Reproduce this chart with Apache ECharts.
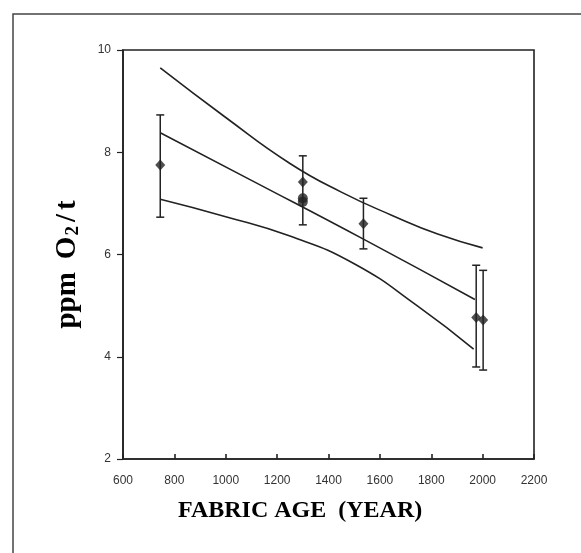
<!DOCTYPE html>
<html>
<head>
<meta charset="utf-8">
<script src="https://cdn.jsdelivr.net/npm/echarts@6/dist/echarts.min.js"></script>
<style>
  html, body { margin: 0; padding: 0; background: #fff; }
  #chart { width: 581px; height: 553px; }
</style>
</head>
<body>
<div id="chart"></div>
<script>
const xTicks = [600, 800, 1000, 1200, 1400, 1600, 1800, 2000, 2200];
const yTicks = [2, 4, 6, 8, 10];

const barX = [745, 1300, 1536, 1975, 2002];
const barLow = [6.73, 6.58, 6.11, 3.80, 3.74];
const barHigh = [8.73, 7.93, 7.10, 5.79, 5.69];

const diamondX = [745, 1300, 1536, 1975, 2002];
const diamondY = [7.75, 7.42, 6.60, 4.77, 4.72];
const circleX = [1300, 1300];
const circleY = [7.10, 7.03];

// fitted curve and its two bounds
const upperX = [745, 1000, 1250, 1450, 1650, 1825, 2000];
const upperY = [9.65, 8.68, 7.78, 7.22, 6.76, 6.40, 6.13];
const midX = [745, 1100, 1536, 1970];
const midY = [8.38, 7.45, 6.30, 5.12];
const lowerX = [745, 1000, 1250, 1500, 1750, 1965];
const lowerY = [7.08, 6.74, 6.36, 5.82, 4.98, 4.15];

const ink = '#222';
const zip = (xs, ys) => xs.map((x, i) => [x, ys[i]]);

const chart = echarts.init(document.getElementById('chart'));

const curve = (xs, ys) => ({
  type: 'line',
  data: zip(xs, ys),
  smooth: 0.5,
  showSymbol: false,
  lineStyle: { color: ink, width: 1.6 },
  silent: true,
  z: 2
});

const serifBold = { fontFamily: 'Liberation Serif', fontWeight: 'bold', color: '#000' };

chart.setOption({
  backgroundColor: '#fff',
  animation: false,
  grid: {
    left: 123, right: 47, top: 50, bottom: 94,
    show: true, borderColor: ink, borderWidth: 1.6
  },
  xAxis: {
    type: 'value',
    min: xTicks[0], max: xTicks[xTicks.length - 1], interval: 200,
    splitLine: { show: false },
    axisLine: { lineStyle: { color: ink, width: 1.6 } },
    axisTick: { inside: true, length: 5, lineStyle: { color: ink, width: 1.6 } },
    axisLabel: { color: '#333', fontFamily: 'Arial', fontSize: 12, margin: 16,
                 formatter: v => String(v) }
  },
  yAxis: {
    type: 'value',
    min: yTicks[0], max: yTicks[yTicks.length - 1], interval: 2,
    splitLine: { show: false },
    axisLine: { lineStyle: { color: ink, width: 1.6 } },
    axisTick: { length: 6, lineStyle: { color: ink, width: 1.2 } },
    axisLabel: { color: '#333', fontFamily: 'Arial', fontSize: 12, margin: 12 },
    name: '{a|ppm}{o|O}{s|2}{c|/}{t|t}',
    nameLocation: 'middle',
    nameGap: 40,
    nameRotate: 90,
    nameTextStyle: {
      ...serifBold, fontSize: 29,
      rich: {
        a: { ...serifBold, fontSize: 29 },
        o: { ...serifBold, fontSize: 29, padding: [0, 0, 0, 13] },
        s: { ...serifBold, fontSize: 19, padding: [11, 2, 0, 1] },
        c: { ...serifBold, fontSize: 29, padding: [0, 0, 0, 2] },
        t: { ...serifBold, fontSize: 29, padding: [0, 20, 0, 4] }
      }
    }
  },
  graphic: [
    { type: 'rect', shape: { x: 13, y: 14, width: 700, height: 700 },
      style: { fill: 'none', stroke: '#444', lineWidth: 1.5 }, silent: true },
    { type: 'text', left: 178, top: 499,
      style: { text: 'FABRIC AGE  (YEAR)', fill: '#000', font: 'bold 24px "Liberation Serif"' } }
  ],
  series: [
    curve(upperX, upperY),
    curve(midX, midY),
    curve(lowerX, lowerY),
    {
      type: 'custom',
      data: barX.map((x, i) => [x, barLow[i], barHigh[i]]),
      renderItem: (params, api) => {
        const lo = api.coord([api.value(0), api.value(1)]);
        const hi = api.coord([api.value(0), api.value(2)]);
        const w = 4;
        const s = { stroke: ink, lineWidth: 1.5 };
        return {
          type: 'group',
          children: [
            { type: 'line', shape: { x1: lo[0], y1: lo[1], x2: hi[0], y2: hi[1] }, style: s },
            { type: 'line', shape: { x1: lo[0] - w, y1: lo[1], x2: lo[0] + w, y2: lo[1] }, style: s },
            { type: 'line', shape: { x1: hi[0] - w, y1: hi[1], x2: hi[0] + w, y2: hi[1] }, style: s }
          ]
        };
      },
      z: 3
    },
    {
      type: 'scatter',
      data: zip(diamondX, diamondY),
      symbol: 'diamond',
      symbolSize: [10, 11],
      itemStyle: { color: ink },
      z: 4
    },
    {
      type: 'scatter',
      data: zip(circleX, circleY),
      symbol: 'circle',
      symbolSize: 10,
      itemStyle: { color: ink },
      z: 4
    }
  ]
});
</script>
</body>
</html>
